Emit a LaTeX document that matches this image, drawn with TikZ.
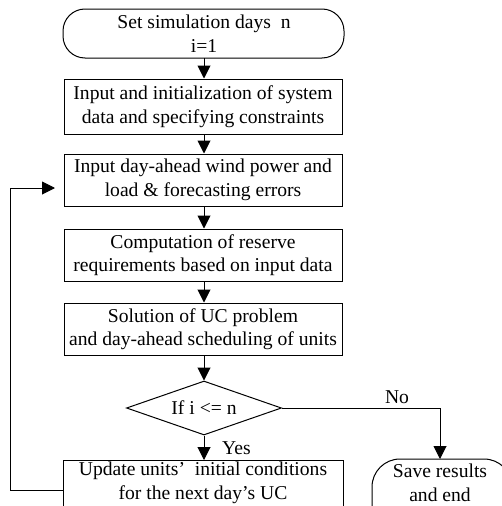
\documentclass[tikz,border=0pt]{standalone}
\usepackage{fontspec}
\setmainfont{Liberation Serif}
\usetikzlibrary{arrows.meta,shapes.geometric}
\begin{document}
\begin{tikzpicture}[x=1pt,y=-1pt,
  every node/.style={font=\fontsize{19.6}{23.5}\selectfont, inner sep=0pt},
  box/.style={draw, line width=1pt, minimum width=278pt, align=center},
  term/.style={draw, line width=1pt, rounded corners=22pt},
  arr/.style={line width=1pt, -{Triangle[width=13pt,length=13pt]}},
  ln/.style={line width=1pt}]
\useasboundingbox (0,0) rectangle (502,506);
% start terminal
\draw[term] (63,9) rectangle (344,58);
\node (start) at (204,33.5) [minimum width=281pt, minimum height=49pt, align=center] {Set simulation days\ \ n\\i=1};
% boxes
\node[box, minimum height=55pt] (b2) at (203,106.5) {Input and initialization of system\\data and specifying constraints};
\node[box, minimum height=52pt] (b3) at (203,180) {Input day-ahead wind power and\\load \& forecasting errors};
\node[box, minimum height=52pt] (b4) at (203,255) {Computation of reserve\\requirements based on input data};
\node[box, minimum height=52pt] (b5) at (203,329) {Solution of UC problem\\and day-ahead scheduling of units};
\node[draw, line width=1pt, diamond, aspect=2.87, minimum width=155pt, minimum height=54pt] (d) at (204,408) {};
\node at (204,408) {If i <= n};
% bottom box (cut off by page)
\draw[ln] (63,460) rectangle (343,540);
\node[align=center] (b6) at (203,483) {Update units'\ \ initial conditions\\for the next day's UC};
\draw[ln, rounded corners=28pt] (372,459) rectangle (512,545);
\node[align=center] (save) at (440,483) {Save results\\and end};
\coordinate (b6w) at (63,490);
\coordinate (b6n) at (204,460);
\coordinate (saven) at (440,459);
% connectors
\draw[arr] (204,58) -- (b2.north -| 204,0);
\draw[arr] (b2.south -| 204,0) -- (b3.north -| 204,0);
\draw[arr] (b3.south -| 204,0) -- (b4.north -| 204,0);
\draw[arr] (b4.south -| 204,0) -- (b5.north -| 204,0);
\draw[arr] (b5.south -| 204,0) -- (d.north);
\draw[arr] (d.south) -- (b6n);
\node[anchor=west] at (222,448) {Yes};
\draw[arr] (d.east) -| (saven);
\node at (397,397) {No};
\draw[arr] (b6w) -- (10,490) -- (10,188) -- (55,188);
\end{tikzpicture}
\end{document}
